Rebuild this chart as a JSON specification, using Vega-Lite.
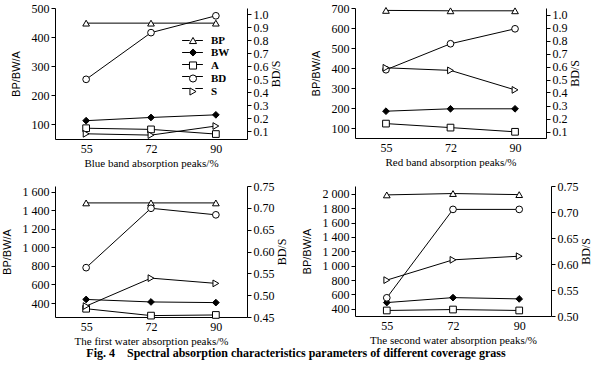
{
  "$schema": "https://vega.github.io/schema/vega-lite/v6.json",
  "background": "white",
  "padding": {"left": 1, "top": 2, "right": 5, "bottom": 3},
  "config": {
    "view": {"stroke": null},
    "axis": {"grid": false, "domainColor": "black", "tickColor": "black", "labelColor": "black", "titleColor": "black", "labelFont": "Liberation Serif", "labelFontSize": 12, "titleFont": "Liberation Serif", "titleFontSize": 11, "titleFontWeight": "normal", "tickSize": 4},
    "axisY": {"labelPadding": 2},
    "title": {"font": "Liberation Serif", "color": "black"}
  },
  "title": {"text": "Fig. 4\u2003Spectral absorption characteristics parameters of different coverage grass", "orient": "bottom", "anchor": "middle", "fontSize": 12, "fontWeight": "bold", "offset": 2},
  "datasets": {
    "d": [
      {"p": "a", "x": 55, "s": "BP", "v": 448, "ax": "L"},
      {"p": "a", "x": 72, "s": "BP", "v": 448, "ax": "L"},
      {"p": "a", "x": 90, "s": "BP", "v": 448, "ax": "L"},
      {"p": "a", "x": 55, "s": "BW", "v": 113, "ax": "L"},
      {"p": "a", "x": 72, "s": "BW", "v": 124, "ax": "L"},
      {"p": "a", "x": 90, "s": "BW", "v": 133, "ax": "L"},
      {"p": "a", "x": 55, "s": "A", "v": 87, "ax": "L"},
      {"p": "a", "x": 72, "s": "A", "v": 83, "ax": "L"},
      {"p": "a", "x": 90, "s": "A", "v": 67, "ax": "L"},
      {"p": "a", "x": 55, "s": "BD", "v": 0.5, "ax": "R"},
      {"p": "a", "x": 72, "s": "BD", "v": 0.86, "ax": "R"},
      {"p": "a", "x": 90, "s": "BD", "v": 0.99, "ax": "R"},
      {"p": "a", "x": 55, "s": "S", "v": 0.08, "ax": "R"},
      {"p": "a", "x": 72, "s": "S", "v": 0.07, "ax": "R"},
      {"p": "a", "x": 90, "s": "S", "v": 0.14, "ax": "R"},
      {"p": "b", "x": 55, "s": "BP", "v": 688, "ax": "L"},
      {"p": "b", "x": 72, "s": "BP", "v": 686, "ax": "L"},
      {"p": "b", "x": 90, "s": "BP", "v": 686, "ax": "L"},
      {"p": "b", "x": 55, "s": "BW", "v": 184, "ax": "L"},
      {"p": "b", "x": 72, "s": "BW", "v": 196, "ax": "L"},
      {"p": "b", "x": 90, "s": "BW", "v": 196, "ax": "L"},
      {"p": "b", "x": 55, "s": "A", "v": 122, "ax": "L"},
      {"p": "b", "x": 72, "s": "A", "v": 102, "ax": "L"},
      {"p": "b", "x": 90, "s": "A", "v": 81, "ax": "L"},
      {"p": "b", "x": 55, "s": "BD", "v": 0.575, "ax": "R"},
      {"p": "b", "x": 72, "s": "BD", "v": 0.775, "ax": "R"},
      {"p": "b", "x": 90, "s": "BD", "v": 0.89, "ax": "R"},
      {"p": "b", "x": 55, "s": "S", "v": 0.59, "ax": "R"},
      {"p": "b", "x": 72, "s": "S", "v": 0.57, "ax": "R"},
      {"p": "b", "x": 90, "s": "S", "v": 0.42, "ax": "R"},
      {"p": "c", "x": 55, "s": "BP", "v": 1478, "ax": "L"},
      {"p": "c", "x": 72, "s": "BP", "v": 1478, "ax": "L"},
      {"p": "c", "x": 90, "s": "BP", "v": 1478, "ax": "L"},
      {"p": "c", "x": 55, "s": "BW", "v": 439, "ax": "L"},
      {"p": "c", "x": 72, "s": "BW", "v": 412, "ax": "L"},
      {"p": "c", "x": 90, "s": "BW", "v": 405, "ax": "L"},
      {"p": "c", "x": 55, "s": "A", "v": 339, "ax": "L"},
      {"p": "c", "x": 72, "s": "A", "v": 265, "ax": "L"},
      {"p": "c", "x": 90, "s": "A", "v": 272, "ax": "L"},
      {"p": "c", "x": 55, "s": "BD", "v": 0.563, "ax": "R"},
      {"p": "c", "x": 72, "s": "BD", "v": 0.699, "ax": "R"},
      {"p": "c", "x": 90, "s": "BD", "v": 0.684, "ax": "R"},
      {"p": "c", "x": 55, "s": "S", "v": 0.475, "ax": "R"},
      {"p": "c", "x": 72, "s": "S", "v": 0.539, "ax": "R"},
      {"p": "c", "x": 90, "s": "S", "v": 0.527, "ax": "R"},
      {"p": "d", "x": 55, "s": "BP", "v": 1986, "ax": "L"},
      {"p": "d", "x": 72, "s": "BP", "v": 2005, "ax": "L"},
      {"p": "d", "x": 90, "s": "BP", "v": 1990, "ax": "L"},
      {"p": "d", "x": 55, "s": "BW", "v": 487, "ax": "L"},
      {"p": "d", "x": 72, "s": "BW", "v": 556, "ax": "L"},
      {"p": "d", "x": 90, "s": "BW", "v": 538, "ax": "L"},
      {"p": "d", "x": 55, "s": "A", "v": 377, "ax": "L"},
      {"p": "d", "x": 72, "s": "A", "v": 390, "ax": "L"},
      {"p": "d", "x": 90, "s": "A", "v": 377, "ax": "L"},
      {"p": "d", "x": 55, "s": "BD", "v": 0.535, "ax": "R"},
      {"p": "d", "x": 72, "s": "BD", "v": 0.705, "ax": "R"},
      {"p": "d", "x": 90, "s": "BD", "v": 0.705, "ax": "R"},
      {"p": "d", "x": 55, "s": "S", "v": 0.569, "ax": "R"},
      {"p": "d", "x": 72, "s": "S", "v": 0.608, "ax": "R"},
      {"p": "d", "x": 90, "s": "S", "v": 0.615, "ax": "R"}
    ]
  },
  "columns": 2,
  "bounds": "flush",
  "spacing": {"row": 47, "column": 108},
  "resolve": {"scale": {"shape": "independent", "fill": "independent", "stroke": "independent", "color": "independent"}, "legend": {"shape": "independent", "fill": "independent", "stroke": "independent", "color": "independent"}},
  "concat": [
    {
      "width": 192, "height": 131,
      "data": {"name": "d"},
      "transform": [{"filter": "datum.p == 'a'"}],
      "encoding": {"x": {"field": "x", "type": "ordinal", "sort": "ascending", "scale": {"type": "point", "padding": 0.48}, "axis": {"title": "Blue band absorption peaks/%", "labelAngle": 0, "ticks": false, "labelPadding": 4, "titlePadding": 3}}},
      "layer": [
        {
          "transform": [{"filter": "datum.ax == 'L'"}],
          "encoding": {"y": {"field": "v", "type": "quantitative", "scale": {"domain": [50, 500], "nice": false, "zero": false}, "axis": {"title": "BP/BW/A", "titleFont": "Liberation Sans", "values": [100, 200, 300, 400, 500], "titlePadding": 10}}},
          "layer": [
            {"mark": {"type": "line", "strokeWidth": 1},
             "encoding": {"color": {"field": "s", "type": "nominal", "scale": {"domain": ["S", "BD", "A", "BW", "BP"], "range": ["black", "black", "black", "black", "black"]},
               "legend": {"orient": "none", "legendX": 132, "legendY": 27, "title": null, "padding": 0, "symbolType": "M-2.6,0L-0.7,0M0.7,0L2.6,0", "symbolSize": 64, "symbolStrokeWidth": 1, "labelExpr": "''", "labelFontSize": 11, "rowPadding": 0}}}},
            {"mark": {"type": "point", "filled": true, "stroke": "black", "strokeWidth": 1, "opacity": 1, "size": 45},
             "encoding": {
               "shape": {"field": "s", "type": "nominal", "scale": {"domain": ["BP", "BW", "A", "BD", "S"], "range": ["triangle-up", "diamond", "square", "circle", "triangle-right"]},
                 "legend": {"orient": "none", "legendX": 132.5, "legendY": 27, "title": null, "padding": 0, "symbolSize": 50, "symbolStrokeWidth": 1, "labelFont": "Liberation Serif", "labelFontSize": 11, "labelFontWeight": "bold", "labelColor": "black", "labelOffset": 12.5, "rowPadding": 0}},
               "fill": {"field": "s", "type": "nominal", "scale": {"domain": ["BP", "BW", "A", "BD", "S"], "range": ["white", "black", "white", "white", "white"]},
                 "legend": {"orient": "none", "legendX": 132.5, "legendY": 27, "title": null, "padding": 0, "symbolSize": 50, "symbolStrokeWidth": 1, "labelFont": "Liberation Serif", "labelFontSize": 11, "labelFontWeight": "bold", "labelColor": "black", "labelOffset": 12.5, "rowPadding": 0}},
               "stroke": {"field": "s", "type": "nominal", "scale": {"domain": ["BP", "BW", "A", "BD", "S"], "range": ["black", "black", "black", "black", "black"]},
                 "legend": {"orient": "none", "legendX": 132.5, "legendY": 27, "title": null, "padding": 0, "symbolSize": 50, "symbolStrokeWidth": 1, "labelFont": "Liberation Serif", "labelFontSize": 11, "labelFontWeight": "bold", "labelColor": "black", "labelOffset": 12.5, "rowPadding": 0}}
             }}
          ]
        },
        {
          "transform": [{"filter": "datum.ax == 'R'"}],
          "encoding": {"y": {"field": "v", "type": "quantitative", "scale": {"domain": [0.04, 1.05], "nice": false, "zero": false}, "axis": {"orient": "right", "title": "BD/S", "titleAngle": -90, "titleFontSize": 12, "values": [0.1, 0.2, 0.3, 0.4, 0.5, 0.6, 0.7, 0.8, 0.9, 1.0], "format": ".1f", "titlePadding": 14}}},
          "layer": [
            {"mark": {"type": "line", "strokeWidth": 1},
             "encoding": {"color": {"field": "s", "type": "nominal", "scale": {"domain": ["S", "BD", "A", "BW", "BP"], "range": ["black", "black", "black", "black", "black"]},
               "legend": {"orient": "none", "legendX": 132, "legendY": 27, "title": null, "padding": 0, "symbolType": "M-2.6,0L-0.7,0M0.7,0L2.6,0", "symbolSize": 64, "symbolStrokeWidth": 1, "labelExpr": "''", "labelFontSize": 11, "rowPadding": 0}}}},
            {"mark": {"type": "point", "filled": true, "stroke": "black", "strokeWidth": 1, "opacity": 1, "size": 45},
             "encoding": {
               "shape": {"field": "s", "type": "nominal", "scale": {"domain": ["BP", "BW", "A", "BD", "S"], "range": ["triangle-up", "diamond", "square", "circle", "triangle-right"]},
                 "legend": {"orient": "none", "legendX": 132.5, "legendY": 27, "title": null, "padding": 0, "symbolSize": 50, "symbolStrokeWidth": 1, "labelFont": "Liberation Serif", "labelFontSize": 11, "labelFontWeight": "bold", "labelColor": "black", "labelOffset": 12.5, "rowPadding": 0}},
               "fill": {"field": "s", "type": "nominal", "scale": {"domain": ["BP", "BW", "A", "BD", "S"], "range": ["white", "black", "white", "white", "white"]},
                 "legend": {"orient": "none", "legendX": 132.5, "legendY": 27, "title": null, "padding": 0, "symbolSize": 50, "symbolStrokeWidth": 1, "labelFont": "Liberation Serif", "labelFontSize": 11, "labelFontWeight": "bold", "labelColor": "black", "labelOffset": 12.5, "rowPadding": 0}},
               "stroke": {"field": "s", "type": "nominal", "scale": {"domain": ["BP", "BW", "A", "BD", "S"], "range": ["black", "black", "black", "black", "black"]},
                 "legend": {"orient": "none", "legendX": 132.5, "legendY": 27, "title": null, "padding": 0, "symbolSize": 50, "symbolStrokeWidth": 1, "labelFont": "Liberation Serif", "labelFontSize": 11, "labelFontWeight": "bold", "labelColor": "black", "labelOffset": 12.5, "rowPadding": 0}}
             }}
          ]
        }
      ],
      "resolve": {"scale": {"y": "independent"}}
    },
    {
      "width": 191, "height": 130,
      "data": {"name": "d"},
      "transform": [{"filter": "datum.p == 'b'"}],
      "encoding": {"x": {"field": "x", "type": "ordinal", "sort": "ascending", "scale": {"type": "point", "padding": 0.48}, "axis": {"title": "Red band absorption peaks/%", "labelAngle": 0, "ticks": false, "labelPadding": 4, "titlePadding": 3}}},
      "layer": [
        {
          "transform": [{"filter": "datum.ax == 'L'"}],
          "encoding": {"y": {"field": "v", "type": "quantitative", "scale": {"domain": [50, 700], "nice": false, "zero": false}, "axis": {"title": "BP/BW/A", "titleFont": "Liberation Sans", "values": [100, 200, 300, 400, 500, 600, 700], "titlePadding": 10}}},
          "layer": [
            {"mark": {"type": "line", "color": "black", "strokeWidth": 1}, "encoding": {"detail": {"field": "s"}}},
            {"mark": {"type": "point", "filled": true, "stroke": "black", "strokeWidth": 1, "opacity": 1, "size": 45},
             "encoding": {
               "shape": {"field": "s", "type": "nominal", "scale": {"domain": ["BP", "BW", "A", "BD", "S"], "range": ["triangle-up", "diamond", "square", "circle", "triangle-right"]}, "legend": null},
               "fill": {"field": "s", "type": "nominal", "scale": {"domain": ["BP", "BW", "A", "BD", "S"], "range": ["white", "black", "white", "white", "white"]}, "legend": null}
             }}
          ]
        },
        {
          "transform": [{"filter": "datum.ax == 'R'"}],
          "encoding": {"y": {"field": "v", "type": "quantitative", "scale": {"domain": [0.05, 1.05], "nice": false, "zero": false}, "axis": {"orient": "right", "title": "BD/S", "titleAngle": -90, "titleFontSize": 12, "values": [0.1, 0.2, 0.3, 0.4, 0.5, 0.6, 0.7, 0.8, 0.9, 1.0], "format": ".1f", "titlePadding": 14}}},
          "layer": [
            {"mark": {"type": "line", "color": "black", "strokeWidth": 1}, "encoding": {"detail": {"field": "s"}}},
            {"mark": {"type": "point", "filled": true, "stroke": "black", "strokeWidth": 1, "opacity": 1, "size": 45},
             "encoding": {
               "shape": {"field": "s", "type": "nominal", "scale": {"domain": ["BP", "BW", "A", "BD", "S"], "range": ["triangle-up", "diamond", "square", "circle", "triangle-right"]}, "legend": null},
               "fill": {"field": "s", "type": "nominal", "scale": {"domain": ["BP", "BW", "A", "BD", "S"], "range": ["white", "black", "white", "white", "white"]}, "legend": null}
             }}
          ]
        }
      ],
      "resolve": {"scale": {"y": "independent"}}
    },
    {
      "width": 192, "height": 131,
      "data": {"name": "d"},
      "transform": [{"filter": "datum.p == 'c'"}],
      "encoding": {"x": {"field": "x", "type": "ordinal", "sort": "ascending", "scale": {"type": "point", "padding": 0.48}, "axis": {"title": "The first water absorption peaks/%", "labelAngle": 0, "ticks": false, "labelPadding": 4, "titlePadding": 3}}},
      "layer": [
        {
          "transform": [{"filter": "datum.ax == 'L'"}],
          "encoding": {"y": {"field": "v", "type": "quantitative", "scale": {"domain": [250, 1660], "nice": false, "zero": false}, "axis": {"title": "BP/BW/A", "titleFont": "Liberation Sans", "values": [400, 600, 800, 1000, 1200, 1400, 1600], "labelExpr": "replace(format(datum.value, ','), ',', ' ')", "titlePadding": 10}}},
          "layer": [
            {"mark": {"type": "line", "color": "black", "strokeWidth": 1}, "encoding": {"detail": {"field": "s"}}},
            {"mark": {"type": "point", "filled": true, "stroke": "black", "strokeWidth": 1, "opacity": 1, "size": 45},
             "encoding": {
               "shape": {"field": "s", "type": "nominal", "scale": {"domain": ["BP", "BW", "A", "BD", "S"], "range": ["triangle-up", "diamond", "square", "circle", "triangle-right"]}, "legend": null},
               "fill": {"field": "s", "type": "nominal", "scale": {"domain": ["BP", "BW", "A", "BD", "S"], "range": ["white", "black", "white", "white", "white"]}, "legend": null}
             }}
          ]
        },
        {
          "transform": [{"filter": "datum.ax == 'R'"}],
          "encoding": {"y": {"field": "v", "type": "quantitative", "scale": {"domain": [0.45, 0.75], "nice": false, "zero": false}, "axis": {"orient": "right", "title": "BD/S", "titleAngle": -90, "titleFontSize": 12, "values": [0.45, 0.5, 0.55, 0.6, 0.65, 0.7, 0.75], "format": ".2f", "titlePadding": 14}}},
          "layer": [
            {"mark": {"type": "line", "color": "black", "strokeWidth": 1}, "encoding": {"detail": {"field": "s"}}},
            {"mark": {"type": "point", "filled": true, "stroke": "black", "strokeWidth": 1, "opacity": 1, "size": 45},
             "encoding": {
               "shape": {"field": "s", "type": "nominal", "scale": {"domain": ["BP", "BW", "A", "BD", "S"], "range": ["triangle-up", "diamond", "square", "circle", "triangle-right"]}, "legend": null},
               "fill": {"field": "s", "type": "nominal", "scale": {"domain": ["BP", "BW", "A", "BD", "S"], "range": ["white", "black", "white", "white", "white"]}, "legend": null}
             }}
          ]
        }
      ],
      "resolve": {"scale": {"y": "independent"}}
    },
    {
      "width": 196, "height": 130,
      "data": {"name": "d"},
      "transform": [{"filter": "datum.p == 'd'"}],
      "encoding": {"x": {"field": "x", "type": "ordinal", "sort": "ascending", "scale": {"type": "point", "padding": 0.48}, "axis": {"title": "The second water absorption peaks/%", "labelAngle": 0, "ticks": false, "labelPadding": 4, "titlePadding": 3}}},
      "layer": [
        {
          "transform": [{"filter": "datum.ax == 'L'"}],
          "encoding": {"y": {"field": "v", "type": "quantitative", "scale": {"domain": [300, 2110], "nice": false, "zero": false}, "axis": {"title": "BP/BW/A", "titleFont": "Liberation Sans", "values": [400, 600, 800, 1000, 1200, 1400, 1600, 1800, 2000], "labelExpr": "replace(format(datum.value, ','), ',', ' ')", "titlePadding": 10}}},
          "layer": [
            {"mark": {"type": "line", "color": "black", "strokeWidth": 1}, "encoding": {"detail": {"field": "s"}}},
            {"mark": {"type": "point", "filled": true, "stroke": "black", "strokeWidth": 1, "opacity": 1, "size": 45},
             "encoding": {
               "shape": {"field": "s", "type": "nominal", "scale": {"domain": ["BP", "BW", "A", "BD", "S"], "range": ["triangle-up", "diamond", "square", "circle", "triangle-right"]}, "legend": null},
               "fill": {"field": "s", "type": "nominal", "scale": {"domain": ["BP", "BW", "A", "BD", "S"], "range": ["white", "black", "white", "white", "white"]}, "legend": null}
             }}
          ]
        },
        {
          "transform": [{"filter": "datum.ax == 'R'"}],
          "encoding": {"y": {"field": "v", "type": "quantitative", "scale": {"domain": [0.5, 0.75], "nice": false, "zero": false}, "axis": {"orient": "right", "title": "BD/S", "titleAngle": -90, "titleFontSize": 12, "values": [0.5, 0.55, 0.6, 0.65, 0.7, 0.75], "format": ".2f", "titlePadding": 14}}},
          "layer": [
            {"mark": {"type": "line", "color": "black", "strokeWidth": 1}, "encoding": {"detail": {"field": "s"}}},
            {"mark": {"type": "point", "filled": true, "stroke": "black", "strokeWidth": 1, "opacity": 1, "size": 45},
             "encoding": {
               "shape": {"field": "s", "type": "nominal", "scale": {"domain": ["BP", "BW", "A", "BD", "S"], "range": ["triangle-up", "diamond", "square", "circle", "triangle-right"]}, "legend": null},
               "fill": {"field": "s", "type": "nominal", "scale": {"domain": ["BP", "BW", "A", "BD", "S"], "range": ["white", "black", "white", "white", "white"]}, "legend": null}
             }}
          ]
        }
      ],
      "resolve": {"scale": {"y": "independent"}}
    }
  ]
}
